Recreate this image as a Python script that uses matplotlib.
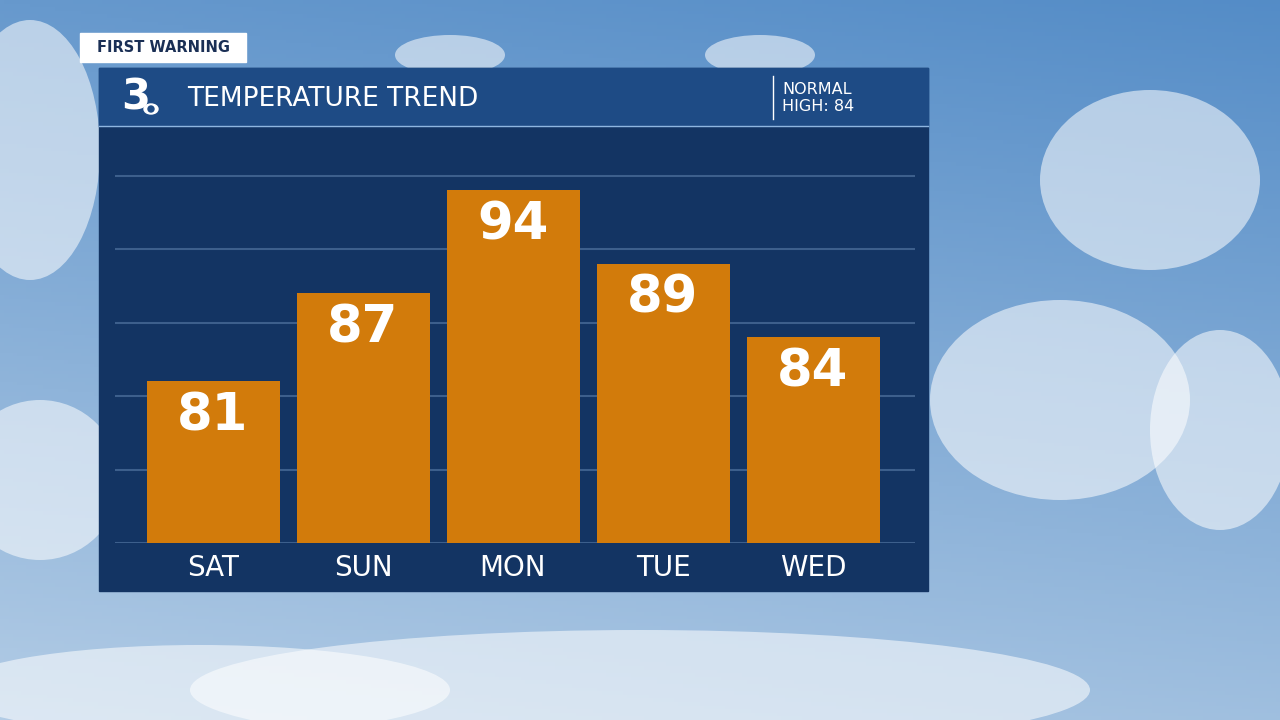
import matplotlib
matplotlib.use("Agg")
import matplotlib.pyplot as plt
import numpy as np
from matplotlib.patches import Rectangle, Ellipse

days = ["SAT", "SUN", "MON", "TUE", "WED"]
temps = [81, 87, 94, 89, 84]
title = "TEMPERATURE TREND"
normal_text = "NORMAL\nHIGH: 84"
tag = "FIRST WARNING"

W, H = 1280, 720
fig = plt.figure(figsize=(12.8, 7.2), dpi=100)
plt.rcParams['font.family'] = ['DejaVu Sans']

# background sky
bg = fig.add_axes([0, 0, 1, 1])
bg.set_xlim(0, W); bg.set_ylim(H, 0); bg.axis("off")
yy = np.linspace(0, 1, 200)[:, None]
xx = np.linspace(0, 1, 300)[None, :]
top = np.array([0.33, 0.55, 0.78]); bot = np.array([0.70, 0.80, 0.90])
t = (yy * 0.8 + (1 - xx) * 0.2)[..., None]
img = top * (1 - t) + bot * t
bg.imshow(img, extent=[0, W, H, 0], aspect="auto", zorder=0)
clouds = [(30, 150, 140, 260), (40, 480, 160, 160), (1150, 180, 220, 180),
          (1060, 400, 260, 200), (1220, 430, 140, 200), (640, 690, 900, 120),
          (450, 55, 110, 40), (760, 55, 110, 40), (200, 690, 500, 90)]
for cx, cy, w, h in clouds:
    bg.add_patch(Ellipse((cx, cy), w, h, color="white", alpha=0.55, lw=0, zorder=1))

# panel
bg.add_patch(Rectangle((99, 68), 829, 523, color="#133463", zorder=2))
bg.add_patch(Rectangle((99, 68), 829, 58, color="#1e4b85", zorder=3))
bg.plot([99, 928], [126, 126], color="#8fb6e0", lw=1, zorder=4)
bg.plot([773, 773], [76, 119], color="white", lw=1, zorder=4)
bg.text(187, 99, title, color="white", fontsize=19, va="center", zorder=5)
bg.text(782, 98, normal_text, color="white", fontsize=11.5, va="center", linespacing=1.1, zorder=5)
bg.text(136, 97, "3", color="white", fontsize=30, fontweight="bold", ha="center", va="center", zorder=5)
bg.add_patch(Ellipse((151, 109), 14, 10, color="white", zorder=5))
bg.add_patch(Ellipse((151, 109), 6, 6, color="#1e4b85", zorder=6))
bg.add_patch(Rectangle((80, 33), 166, 29, color="white", zorder=5))
bg.text(97, 47, tag, color="#1a2f55", fontsize=10.5, fontweight="bold", va="center", zorder=6)

# chart
ax = fig.add_axes([115 / W, 1 - 543 / H, 800 / W, (543 - 126) / H])
ax.set_facecolor("none")
x = np.arange(len(days))
ax.set_xlim(-98 / 150, 4 + 102 / 150)
ax.set_ylim(70, 70 + (543 - 126) / 14.7)
for g in [70, 75, 80, 85, 90, 95]:
    ax.axhline(g, color="#3d5f8c", lw=1.5, zorder=1)
ax.bar(x, [v - 70 for v in temps], bottom=70, width=133 / 150, color="#d27b0b", zorder=2)
for xi, v in zip(x, temps):
    ax.text(xi, v - 2.4, str(v), color="white", fontsize=37, fontweight="bold", ha="center", va="center", zorder=3)
ax.set_xticks(x)
ax.set_xticklabels(days, color="white", fontsize=20)
ax.tick_params(length=0, pad=8)
ax.set_yticks([])
for s in ax.spines.values():
    s.set_visible(False)

fig.savefig("out.png", dpi=100)
